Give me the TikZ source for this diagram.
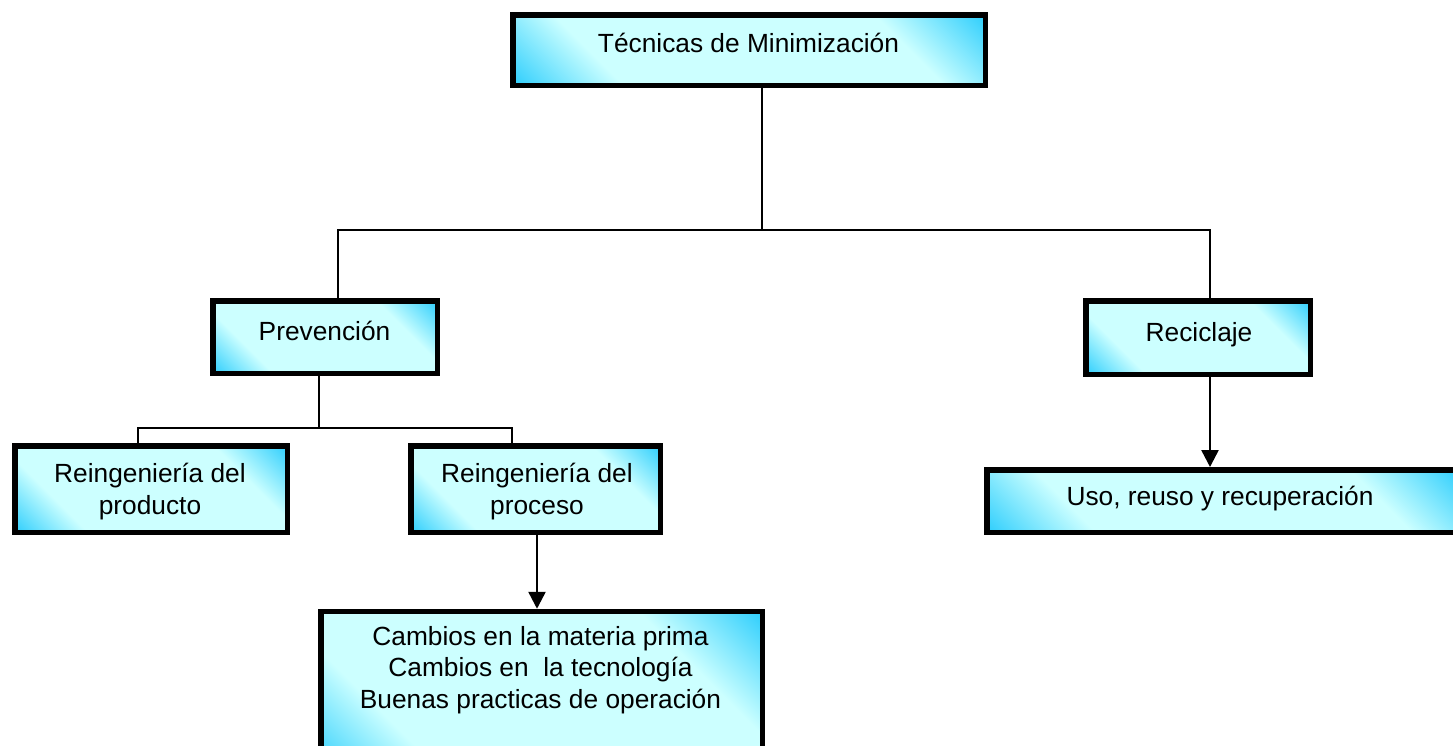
\documentclass[tikz,border=0pt]{standalone}
\usepackage{fontspec}
\setmainfont{Liberation Sans}
\usetikzlibrary{arrows.meta,calc}
\definecolor{cy}{RGB}{40,204,252}
\definecolor{lc}{RGB}{204,255,255}
\pgfdeclareverticalshading{boxshade}{100bp}{color(0bp)=(cy); color(14bp)=(cy); color(29bp)=(lc); color(71bp)=(lc); color(86bp)=(cy); color(100bp)=(cy)}
\begin{document}
\begin{tikzpicture}[x=1pt,y=-1pt,
  mbox/.style={draw=black, line width=5.5pt, shading=boxshade, shading angle=-45, inner sep=0pt},
  txt/.style={inner sep=0pt, align=center, font=\fontsize{26.3}{31.5}\selectfont},
  conn/.style={line width=1.5pt},
  arr/.style={line width=2.5pt, -{Triangle[length=17pt,width=17pt]}}]
\useasboundingbox (0,0) rectangle (1453,745);
\clip (0,0) rectangle (1453,745);
% boxes
\node[mbox, minimum width=472.5pt, minimum height=70.5pt] (top) at (749,50) {};
\node[txt, anchor=base] (topt) at (748.5,52) {Técnicas de Minimización};
\node[mbox, minimum width=224.5pt, minimum height=72.5pt] (prev) at (325,337) {};
\node[txt, anchor=base] (prevt) at (324.5,340) {Prevención};
\node[mbox, minimum width=224.5pt, minimum height=73.5pt] (rec) at (1198,337.5) {};
\node[txt, anchor=base] (rect) at (1199,341) {Reciclaje};
\node[mbox, minimum width=272.5pt, minimum height=86.5pt] (prod) at (151,489) {};
\node[txt, anchor=base] (prodt) at (150,514) {Reingeniería del\\producto};
\node[mbox, minimum width=249.5pt, minimum height=86.5pt] (proc) at (535.5,489) {};
\node[txt, anchor=base] (proct) at (537,514) {Reingeniería del\\proceso};
\node[mbox, minimum width=441.5pt, minimum height=163.5pt, anchor=north] (camb) at (541.5,608.75) {};
\node[txt, anchor=base] (cambt) at (540.5,708) {Cambios en la materia prima\\Cambios en~ la tecnología\\Buenas practicas de operación};
\node[mbox, minimum width=472.5pt, minimum height=62.5pt] (uso) at (1223,501) {};
\node[txt, anchor=base] (usot) at (1220,505) {Uso, reuso y recuperación};
% connectors
\coordinate (j1) at (762,230);
\draw[conn] (top.south -| j1) -- (j1);
\draw[conn] ($(prev.north)+(13,0)$) |- (j1) -| ($(rec.north)+(12,0)$);
\coordinate (j2) at (319,428);
\draw[conn] (prev.south -| j2) -- (j2);
\draw[conn] ($(prod.north)+(-13,0)$) |- (j2) -| ($(proc.north)+(-23.5,0)$);
\coordinate (a3) at (537,0);
\draw[arr] (proc.south -| a3) -- (camb.north -| a3);
\coordinate (a4) at (1210,0);
\draw[arr] (rec.south -| a4) -- (uso.north -| a4);
\end{tikzpicture}
\end{document}
